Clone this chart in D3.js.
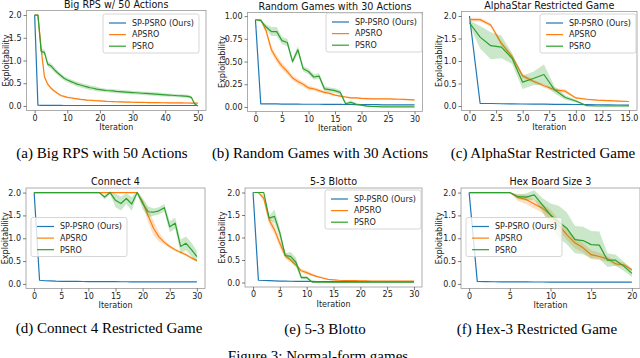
<!DOCTYPE html>
<html>
<head>
<meta charset="utf-8">
<script src="https://cdn.jsdelivr.net/npm/d3@7"></script>
<style>
  body { margin: 0; background: #fff; }
  svg { display: block; }
</style>
</head>
<body>
<div id="figure"></div>
<script>
const seriesNames = ["SP-PSRO (Ours)", "APSRO", "PSRO"];
const colors = ["#1f77b4", "#ff7f0e", "#2ca02c"];

// shared tick lists
const yTicks2 = [0, 0.5, 1.0, 1.5, 2.0];
const yTicks1 = [0, 0.25, 0.5, 0.75, 1.0];

// (a) Big RPS w/ 50 Actions, iterations 0..50
const rpsSp = [2.0, 0.015, 0.014, 0.013, 0.012, 0.012, 0.011, 0.011, 0.011, 0.010,
  0.010, 0.010, 0.010, 0.010, 0.010, 0.010, 0.010, 0.010, 0.010, 0.010,
  0.010, 0.010, 0.010, 0.010, 0.010, 0.010, 0.010, 0.010, 0.010, 0.010,
  0.010, 0.010, 0.010, 0.010, 0.010, 0.010, 0.010, 0.010, 0.010, 0.010,
  0.010, 0.010, 0.010, 0.010, 0.010, 0.010, 0.010, 0.010, 0.010, 0.010, 0.010];
const rpsAp = [2.0, 2.0, 1.25, 0.64, 0.48, 0.39, 0.33, 0.28, 0.23, 0.21,
  0.19, 0.18, 0.165, 0.155, 0.145, 0.14, 0.13, 0.125, 0.12, 0.115,
  0.11, 0.105, 0.1, 0.098, 0.095, 0.092, 0.09, 0.088, 0.086, 0.084,
  0.082, 0.08, 0.078, 0.077, 0.076, 0.075, 0.074, 0.073, 0.072, 0.071,
  0.07, 0.069, 0.068, 0.067, 0.066, 0.066, 0.065, 0.065, 0.064, 0.064, 0.063];
const rpsApBand = [0, 0, 0.05, 0.04, 0.03, 0.03, 0.025, 0.02, 0.02, 0.02,
  0.02, 0.02, 0.02, 0.02, 0.02, 0.02, 0.02, 0.02, 0.02, 0.02,
  0.015, 0.015, 0.015, 0.015, 0.015, 0.015, 0.015, 0.015, 0.015, 0.015,
  0.015, 0.015, 0.015, 0.015, 0.015, 0.015, 0.015, 0.015, 0.015, 0.015,
  0.015, 0.015, 0.015, 0.015, 0.015, 0.015, 0.015, 0.015, 0.015, 0.015, 0.015];
const rpsPs = [2.0, 2.0, 1.2, 1.18, 0.92, 0.88, 0.8, 0.73, 0.67, 0.61,
  0.57, 0.54, 0.51, 0.48, 0.46, 0.44, 0.42, 0.4, 0.39, 0.37,
  0.36, 0.35, 0.34, 0.335, 0.33, 0.32, 0.315, 0.31, 0.305, 0.3,
  0.295, 0.29, 0.285, 0.28, 0.275, 0.27, 0.265, 0.26, 0.255, 0.25,
  0.245, 0.24, 0.235, 0.23, 0.225, 0.22, 0.215, 0.21, 0.19, 0.05, 0.0];
const rpsPsBand = [0, 0, 0.06, 0.06, 0.06, 0.06, 0.06, 0.05, 0.05, 0.05,
  0.05, 0.05, 0.05, 0.05, 0.05, 0.05, 0.05, 0.05, 0.05, 0.05,
  0.04, 0.04, 0.04, 0.04, 0.04, 0.04, 0.04, 0.04, 0.04, 0.04,
  0.04, 0.04, 0.04, 0.04, 0.04, 0.04, 0.04, 0.04, 0.04, 0.04,
  0.035, 0.035, 0.035, 0.035, 0.035, 0.035, 0.035, 0.035, 0.03, 0.02, 0.0];
const rpsXTicks = [0, 10, 20, 30, 40, 50];

// (b) Random Games with 30 Actions, iterations 0..30
const rgSp = [0.96, 0.035, 0.034, 0.033, 0.033, 0.032, 0.032, 0.031, 0.031, 0.03,
  0.03, 0.03, 0.03, 0.029, 0.029, 0.028, 0.028, 0.027, 0.027, 0.026,
  0.026, 0.025, 0.025, 0.025, 0.024, 0.024, 0.024, 0.023, 0.023, 0.023, 0.022];
const rgAp = [0.96, 0.96, 0.84, 0.63, 0.53, 0.45, 0.39, 0.32, 0.28, 0.25,
  0.21, 0.2, 0.18, 0.16, 0.15, 0.13, 0.12, 0.11, 0.1, 0.1,
  0.095, 0.092, 0.09, 0.09, 0.09, 0.09, 0.087, 0.085, 0.083, 0.08, 0.078];
const rgApBand = [0, 0.01, 0.03, 0.04, 0.04, 0.04, 0.035, 0.03, 0.03, 0.025,
  0.025, 0.02, 0.02, 0.015, 0.015, 0.01, 0.01, 0.01, 0.01, 0.01,
  0.01, 0.01, 0.008, 0.008, 0.008, 0.008, 0.008, 0.008, 0.008, 0.008, 0.008];
const rgPs = [0.96, 0.95, 0.88, 0.83, 0.83, 0.73, 0.71, 0.5, 0.63, 0.42,
  0.39, 0.33, 0.34, 0.2, 0.19, 0.18, 0.16, 0.035, 0.05, 0.03,
  0.02, 0.01, 0.005, 0.003, 0.002, 0.001, 0.001, 0.0, 0.0, 0.0, 0.0];
const rgPsBand = [0, 0.01, 0.03, 0.05, 0.05, 0.04, 0.04, 0.03, 0.04, 0.03,
  0.03, 0.03, 0.03, 0.03, 0.025, 0.025, 0.025, 0.015, 0.02, 0.015,
  0.01, 0.005, 0.003, 0.002, 0.001, 0, 0, 0, 0, 0, 0];
const rgXTicks = [0, 5, 10, 15, 20, 25, 30];

// (c) AlphaStar Restricted Game, iterations 0..15
const asSp = [2.0, 0.06, 0.055, 0.05, 0.048, 0.045, 0.043, 0.04, 0.038, 0.035, 0.033, 0.03, 0.028, 0.025, 0.022, 0.02];
const asAp = [1.92, 1.92, 1.8, 1.39, 1.1, 0.67, 0.55, 0.45, 0.36, 0.33, 0.18, 0.15, 0.13, 0.12, 0.11, 0.1];
const asApBand = [0.04, 0.04, 0.04, 0.06, 0.05, 0.05, 0.04, 0.04, 0.04, 0.04, 0.02, 0.02, 0.015, 0.015, 0.01, 0.01];
const asPs = [1.85, 1.53, 1.34, 1.31, 1.06, 0.53, 0.61, 0.7, 0.36, 0.19, 0.11, 0.01, 0.0, 0.0, 0.0, 0.0];
const asPsBand = [0.05, 0.25, 0.3, 0.25, 0.12, 0.15, 0.15, 0.22, 0.08, 0.05, 0.03, 0.01, 0, 0, 0, 0];
const asXTicks = [0, 2.5, 5, 7.5, 10, 12.5, 15];

// (d) Connect 4, iterations 0..30
const c4Sp = [2.0, 0.08, 0.07, 0.065, 0.06, 0.058, 0.056, 0.055, 0.054, 0.053,
  0.052, 0.051, 0.05, 0.05, 0.049, 0.049, 0.048, 0.048, 0.047, 0.047,
  0.046, 0.046, 0.045, 0.045, 0.045, 0.044, 0.044, 0.044, 0.043, 0.043, 0.043];
const c4Ap = [2.0, 2.0, 2.0, 2.0, 2.0, 2.0, 2.0, 2.0, 2.0, 2.0,
  2.0, 2.0, 2.0, 2.0, 2.0, 2.0, 2.0, 2.0, 2.0, 2.0,
  1.8, 1.5, 1.22, 1.03, 0.91, 0.82, 0.75, 0.69, 0.64, 0.57, 0.51];
const c4ApBand = [0, 0, 0, 0, 0, 0, 0, 0, 0, 0,
  0, 0, 0, 0, 0, 0, 0, 0, 0, 0,
  0.05, 0.15, 0.15, 0.1, 0.05, 0.04, 0.03, 0.03, 0.03, 0.03, 0.03];
const c4Ps = [2.0, 2.0, 2.0, 2.0, 2.0, 2.0, 2.0, 2.0, 2.0, 2.0,
  2.0, 2.0, 2.0, 1.9, 2.0, 1.83, 1.76, 1.87, 1.75, 2.0,
  1.76, 1.58, 1.57, 1.6, 1.67, 1.25, 1.33, 0.82, 0.89, 0.75, 0.6];
const c4PsBand = [0, 0, 0, 0, 0, 0, 0, 0, 0, 0,
  0, 0, 0, 0.05, 0.03, 0.15, 0.15, 0.12, 0.15, 0.03,
  0.12, 0.12, 0.08, 0.08, 0.08, 0.12, 0.12, 0.15, 0.15, 0.15, 0.12];
const c4XTicks = [0, 5, 10, 15, 20, 25, 30];

// (e) 5-3 Blotto, iterations 0..30
const blSp = [2.0, 0.05, 0.045, 0.04, 0.035, 0.032, 0.03, 0.028, 0.026, 0.025,
  0.024, 0.023, 0.022, 0.022, 0.021, 0.021, 0.02, 0.02, 0.02, 0.02,
  0.02, 0.02, 0.02, 0.02, 0.02, 0.02, 0.02, 0.02, 0.02, 0.02, 0.02];
const blAp = [2.0, 2.0, 1.87, 1.39, 1.17, 0.87, 0.6, 0.5, 0.39, 0.26,
  0.22, 0.17, 0.13, 0.1, 0.07, 0.06, 0.05, 0.045, 0.04, 0.04,
  0.035, 0.035, 0.03, 0.03, 0.03, 0.03, 0.03, 0.03, 0.03, 0.03, 0.03];
const blApBand = [0, 0, 0.08, 0.1, 0.1, 0.1, 0.07, 0.06, 0.05, 0.04,
  0.04, 0.03, 0.02, 0.02, 0.015, 0.01, 0.01, 0.01, 0.01, 0.01,
  0.01, 0.01, 0.01, 0.01, 0.01, 0.01, 0.01, 0.01, 0.01, 0.01, 0.01];
const blPs = [2.0, 2.0, 2.0, 1.43, 1.47, 1.1, 0.6, 0.58, 0.45, 0.11,
  0.11, 0.01, 0.01, 0.01, 0.01, 0.01, 0.01, 0.01, 0.01, 0.01,
  0.01, 0.01, 0.01, 0.01, 0.01, 0.01, 0.01, 0.01, 0.01, 0.01, 0.01];
const blPsBand = [0, 0, 0, 0.05, 0.15, 0.1, 0.05, 0.1, 0.1, 0.04,
  0.04, 0.005, 0.005, 0.005, 0.005, 0.005, 0.005, 0.005, 0.005, 0.005,
  0.005, 0.005, 0.005, 0.005, 0.005, 0.005, 0.005, 0.005, 0.005, 0.005, 0.005];
const blXTicks = [0, 5, 10, 15, 20, 25, 30];

// (f) Hex Board Size 3, iterations 0..20
const hxSp = [2.0, 0.055, 0.05, 0.048, 0.046, 0.045, 0.044, 0.043, 0.042, 0.042,
  0.041, 0.041, 0.04, 0.04, 0.04, 0.04, 0.039, 0.039, 0.039, 0.039, 0.038];
const hxAp = [2.0, 2.0, 2.0, 2.0, 2.0, 2.0, 1.89, 1.85, 1.75, 1.66,
  1.51, 1.29, 1.08, 0.9, 0.79, 0.64, 0.6, 0.55, 0.44, 0.42, 0.31];
const hxApBand = [0, 0, 0, 0, 0, 0, 0.08, 0.1, 0.1, 0.1,
  0.12, 0.12, 0.12, 0.12, 0.1, 0.1, 0.08, 0.06, 0.05, 0.05, 0.04];
const hxPs = [2.0, 2.0, 2.0, 2.0, 2.0, 2.0, 1.91, 1.9, 1.95, 1.73,
  1.51, 1.36, 1.22, 0.97, 0.95, 0.86, 0.85, 0.52, 0.52, 0.39, 0.23];
const hxPsBand = [0, 0, 0, 0, 0, 0, 0.05, 0.08, 0.1, 0.15,
  0.25, 0.35, 0.35, 0.3, 0.3, 0.3, 0.3, 0.15, 0.12, 0.1, 0.08];
const hxXTicks = [0, 5, 10, 15, 20];

// layout per panel: axes box [left, right, top, bottom], legend top-left corner
const panels = [
  { title: "Big RPS w/ 50 Actions", caption: "(a) Big RPS with 50 Actions",
    series: [rpsSp, rpsAp, rpsPs], bands: [null, rpsApBand, rpsPsBand],
    xTicks: rpsXTicks, yTicks: yTicks2, xFmt: "d", yFmt: ".1f", yDomain: [-0.1, 2.1],
    box: [26.5, 206, 10.5, 110.5], legend: [103, 14], ylabelX: 6, captionX: 102, captionY: 158 },
  { title: "Random Games with 30 Actions", caption: "(b) Random Games with 30 Actions",
    series: [rgSp, rgAp, rgPs], bands: [null, rgApBand, rgPsBand],
    xTicks: rgXTicks, yTicks: yTicks1, xFmt: "d", yFmt: ".2f", yDomain: [-0.05, 1.04],
    box: [247.5, 422.5, 12.5, 111.5], legend: [326, 13], ylabelX: 222, captionX: 320, captionY: 158 },
  { title: "AlphaStar Restricted Game", caption: "(c) AlphaStar Restricted Game",
    series: [asSp, asAp, asPs], bands: [null, asApBand, asPsBand],
    xTicks: asXTicks, yTicks: yTicks2, xFmt: ".1f", yFmt: ".1f", yDomain: [-0.1, 2.1],
    box: [461.5, 637, 11.5, 110.5], legend: [540, 14], ylabelX: 439, captionX: 543, captionY: 158 },
  { title: "Connect 4", caption: "(d) Connect 4 Restricted Game",
    series: [c4Sp, c4Ap, c4Ps], bands: [null, c4ApBand, c4PsBand],
    xTicks: c4XTicks, yTicks: yTicks2, xFmt: "d", yFmt: ".1f", yDomain: [-0.1, 2.1],
    box: [26, 205, 188, 288.5], legend: [31, 217.5], ylabelX: 5, captionX: 109, captionY: 333 },
  { title: "5-3 Blotto", caption: "(e) 5-3 Blotto",
    series: [blSp, blAp, blPs], bands: [null, blApBand, blPsBand],
    xTicks: blXTicks, yTicks: yTicks2, xFmt: "d", yFmt: ".1f", yDomain: [-0.1, 2.1],
    box: [245, 422, 188, 287], legend: [325, 190], ylabelX: 222, captionX: 325, captionY: 334 },
  { title: "Hex Board Size 3", caption: "(f) Hex-3 Restricted Game",
    series: [hxSp, hxAp, hxPs], bands: [null, hxApBand, hxPsBand],
    xTicks: hxXTicks, yTicks: yTicks2, xFmt: "d", yFmt: ".1f", yDomain: [-0.1, 2.1],
    box: [461, 640, 188, 288.5], legend: [466, 217.5], ylabelX: 439, captionX: 537, captionY: 334 }
];

const W = 640, H = 358;
const svg = d3.select("#figure").append("svg")
    .attr("width", W)
    .attr("height", H);

const sansFont = "DejaVu Sans, sans-serif";
const serifFont = "Liberation Serif, Times New Roman, serif";

panels.forEach(drawPanel);

svg.append("text")
    .attr("x", 318)
    .attr("y", 361)
    .attr("text-anchor", "middle")
    .attr("font-family", serifFont)
    .attr("font-size", 15)
    .text("Figure 3: Normal-form games");

function drawPanel(p) {
    const [left, right, top, bottom] = p.box;
    const n = p.series[0].length - 1;
    const g = svg.append("g");

    // matplotlib style 5% margins on the iteration range
    const x = d3.scaleLinear()
        .domain([-0.05 * n, 1.05 * n])
        .range([left, right]);
    const y = d3.scaleLinear()
        .domain(p.yDomain)
        .range([bottom, top]);

    const line = d3.line()
        .x((d, i) => x(i))
        .y(d => y(d));

    const area = d3.area()
        .x(d => x(d.i))
        .y0(d => y(d.v - d.s))
        .y1(d => y(d.v + d.s));

    p.series.forEach((vals, k) => {
        if (p.bands[k]) {
            const pts = vals.map((v, i) => ({ i: i, v: v, s: p.bands[k][i] }));
            g.append("path")
                .datum(pts)
                .attr("d", area)
                .attr("fill", colors[k])
                .attr("fill-opacity", 0.25)
                .attr("stroke", "none");
        }
        g.append("path")
            .datum(vals)
            .attr("d", line)
            .attr("fill", "none")
            .attr("stroke", colors[k])
            .attr("stroke-width", 1.2)
            .attr("stroke-linejoin", "round");
    });

    // frame
    g.append("rect")
        .attr("x", left)
        .attr("y", top)
        .attr("width", right - left)
        .attr("height", bottom - top)
        .attr("fill", "none")
        .attr("stroke", "#999")
        .attr("stroke-width", 0.8);

    const xAxis = g.append("g")
        .attr("transform", "translate(0," + bottom + ")")
        .call(d3.axisBottom(x).tickValues(p.xTicks).tickSize(3).tickPadding(1.5)
            .tickFormat(d3.format(p.xFmt)));
    const yAxis = g.append("g")
        .attr("transform", "translate(" + left + ",0)")
        .call(d3.axisLeft(y).tickValues(p.yTicks).tickSize(3).tickPadding(2)
            .tickFormat(d3.format(p.yFmt)));

    [xAxis, yAxis].forEach(a => {
        a.select(".domain").remove();
        a.selectAll("line").attr("stroke", "#444").attr("stroke-width", 0.7);
        a.selectAll("text")
            .attr("font-family", sansFont)
            .attr("font-size", 8)
            .attr("fill", "#222");
    });

    g.append("text")
        .attr("x", (left + right) / 2)
        .attr("y", top - 3)
        .attr("text-anchor", "middle")
        .attr("font-family", sansFont)
        .attr("font-size", 9.6)
        .attr("fill", "#111")
        .text(p.title);

    g.append("text")
        .attr("x", (left + right) / 2)
        .attr("y", bottom + 19.5)
        .attr("text-anchor", "middle")
        .attr("font-family", sansFont)
        .attr("font-size", 8)
        .attr("fill", "#222")
        .text("Iteration");

    g.append("text")
        .attr("transform", "translate(" + p.ylabelX + "," + ((top + bottom) / 2) + ") rotate(-90)")
        .attr("dy", "0.35em")
        .attr("text-anchor", "middle")
        .attr("font-family", sansFont)
        .attr("font-size", 8)
        .attr("fill", "#222")
        .text("Exploitability");

    // legend
    const lg = g.append("g")
        .attr("transform", "translate(" + p.legend[0] + "," + p.legend[1] + ")");
    const box = lg.append("rect")
        .attr("height", 39)
        .attr("rx", 2)
        .attr("fill", "#fff")
        .attr("fill-opacity", 0.8)
        .attr("stroke", "#ccc")
        .attr("stroke-width", 0.8);
    let maxW = 0;
    seriesNames.forEach((name, k) => {
        const yy = 9 + k * 11.6;
        lg.append("line")
            .attr("x1", 6).attr("x2", 23)
            .attr("y1", yy).attr("y2", yy)
            .attr("stroke", colors[k])
            .attr("stroke-width", 1.2);
        const t = lg.append("text")
            .attr("x", 29)
            .attr("y", yy)
            .attr("dy", "0.35em")
            .attr("font-family", sansFont)
            .attr("font-size", 8)
            .attr("fill", "#222")
            .text(name);
        maxW = Math.max(maxW, t.node().getComputedTextLength());
    });
    box.attr("width", 29 + maxW + 5);

    svg.append("text")
        .attr("x", p.captionX)
        .attr("y", p.captionY)
        .attr("text-anchor", "middle")
        .attr("font-family", serifFont)
        .attr("font-size", 15)
        .attr("fill", "#000")
        .text(p.caption);
}
</script>
</body>
</html>
